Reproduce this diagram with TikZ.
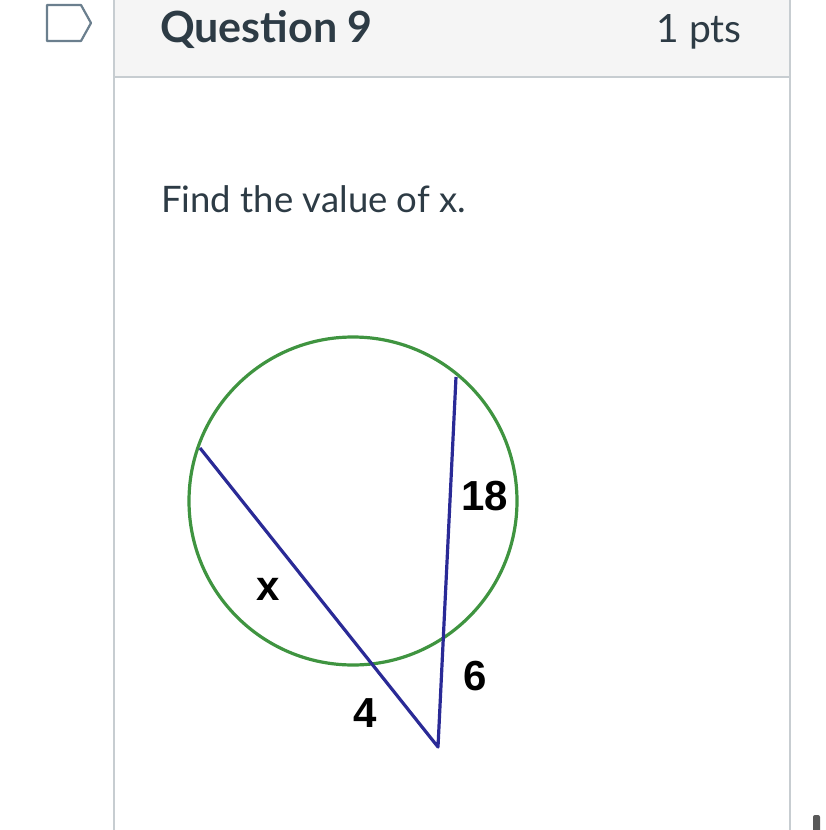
\documentclass[tikz,border=0pt]{standalone}
\usepackage{fontspec}
\setmainfont{Lato}
\newfontfamily\labelfont{Liberation Sans}
\usetikzlibrary{calc}
\definecolor{canvastext}{HTML}{2D3B45}
\definecolor{headerfill}{HTML}{F5F5F5}
\definecolor{borderline}{HTML}{C7CDD1}
\definecolor{flagline}{HTML}{6B7F8E}
\definecolor{circlegreen}{HTML}{3F9440}
\definecolor{secantblue}{HTML}{2A2A96}
\tikzstyle{frame}=[draw=borderline, line width=2pt]
\tikzstyle{title}=[anchor=base west, inner sep=0pt, text=canvastext, font=\fontsize{43}{50}\selectfont\bfseries]
\tikzstyle{annot}=[inner sep=0pt, text=black, font=\labelfont\fontsize{42}{50}\selectfont\bfseries]
\tikzstyle{secant}=[draw=secantblue, line width=3.2pt]

\begin{document}
\begin{tikzpicture}[x=1pt, y=-1pt]
	\useasboundingbox (0,0) rectangle (825,830);

	% question header
	\fill[headerfill] (114,0) rectangle (790,77);
	\draw[frame] (114,77) -- (790,77);
	\draw[frame] (114,0) -- (114,830);
	\draw[frame] (790,0) -- (790,830);
	\draw[flagline, line width=2.2pt, line join=round] (47,5) -- (81,5) -- (91,23) -- (81,41) -- (47,41) -- cycle;
	\node[title](qtitle) at (160,42){Question 9};
	\node[title, anchor=base east, font=\fontsize{39}{46}\selectfont](qpts) at (742,42){1 pts};
	\node[title, font=\fontsize{36.5}{44}\selectfont](prompt) at (161,212){Find the value of x.};

	% figure
	\coordinate (O) at (353,501);
	\coordinate (A) at (200,448);
	\coordinate (B) at (456,377);
	\coordinate (P) at (438,747);
	\draw[circlegreen, line width=3.2pt] (O) circle[radius=164];
	\draw[secant, line join=round] (A) -- (P) -- (B);

	\node[annot](lx) at (268,589){x};
	\node[annot](l18) at (485,496){18};
	\node[annot](l6) at (475,676){6};
	\node[annot](l4) at (365,713){4};

	% scroll mark
	\fill[black!65, rounded corners=2pt] (813,815) rectangle (820,832);
\end{tikzpicture}
\end{document}
